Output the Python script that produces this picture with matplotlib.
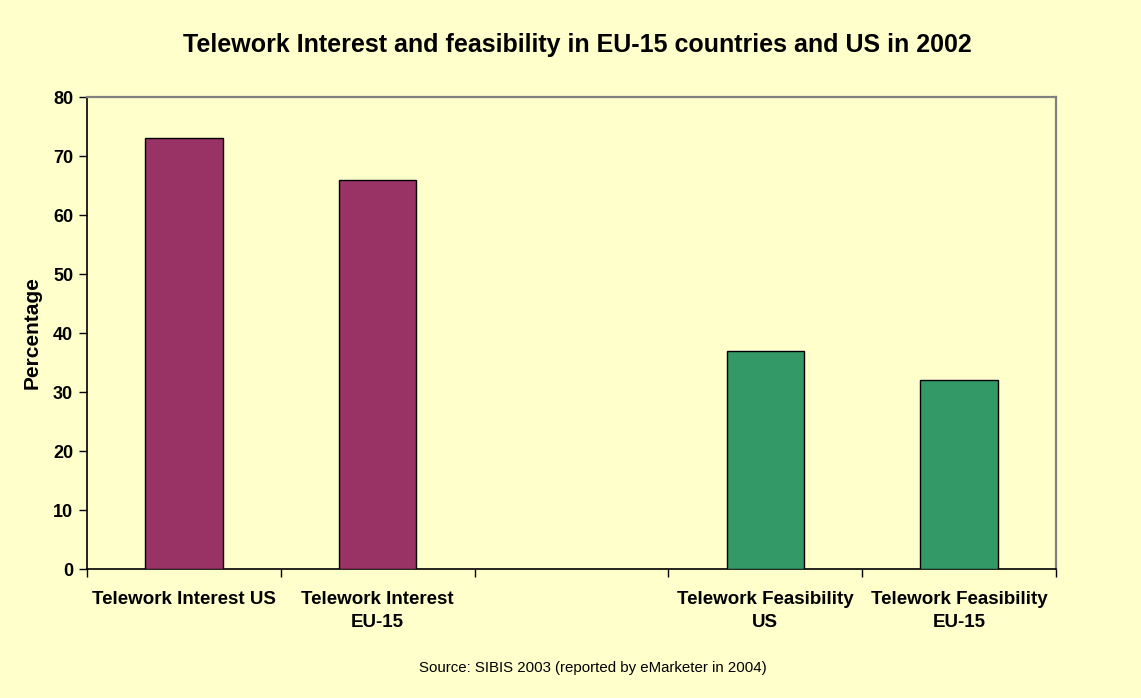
import numpy as np
import matplotlib
matplotlib.use("Agg")
import matplotlib.pyplot as plt

plt.rcParams['font.family'] = ['Liberation Sans', 'DejaVu Sans']

categories = ["Telework Interest US", "Telework Interest\nEU-15", "",
              "Telework Feasibility\nUS", "Telework Feasibility\nEU-15"]
values = [73, 66, np.nan, 37, 32]
colors = ["#993366", "#993366", "#993366", "#339966", "#339966"]

bg = "#FFFFCC"
fig = plt.figure(figsize=(11.41, 6.98), dpi=100, facecolor=bg)
ax = fig.add_axes([0.0763, 0.1848, 0.8492, 0.6762], facecolor=bg)

x = np.arange(len(categories))
ax.bar(x, values, width=0.4, color=colors, edgecolor="black", linewidth=1.0, zorder=3)

ax.set_xlim(-0.5, len(categories) - 0.5)
ax.set_ylim(0, 80)
ax.set_yticks(np.arange(0, 81, 10))
ax.tick_params(axis='y', direction='out', length=6, width=1, labelsize=13, pad=4)
for lbl in ax.get_yticklabels():
    lbl.set_fontweight('bold')

# category boundaries carry the tick marks, labels sit at bar centres
ax.set_xticks(np.arange(-0.5, len(categories), 1.0))
ax.set_xticklabels([])
ax.tick_params(axis='x', which='major', direction='out', length=6, width=1)
ax.set_xticks(x, minor=True)
ax.set_xticklabels(categories, minor=True, fontsize=13.5, fontweight='bold',
                   linespacing=1.5, va='top')
ax.tick_params(axis='x', which='minor', length=0, pad=15.5)

for side in ('left', 'bottom'):
    ax.spines[side].set_color('black')
    ax.spines[side].set_linewidth(1.2)
for side in ('top', 'right'):
    ax.spines[side].set_color('#808080')
    ax.spines[side].set_linewidth(1.6)

ax.set_ylabel("Percentage", fontsize=15, fontweight='bold', labelpad=8)

fig.text(0.506, 0.935, "Telework Interest and feasibility in EU-15 countries and US in 2002",
         ha='center', va='center', fontsize=18, fontweight='bold')
fig.text(0.52, 0.043, "Source: SIBIS 2003 (reported by eMarketer in 2004)",
         ha='center', va='center', fontsize=10.8)

fig.savefig("out.png", dpi=100, facecolor=bg)
